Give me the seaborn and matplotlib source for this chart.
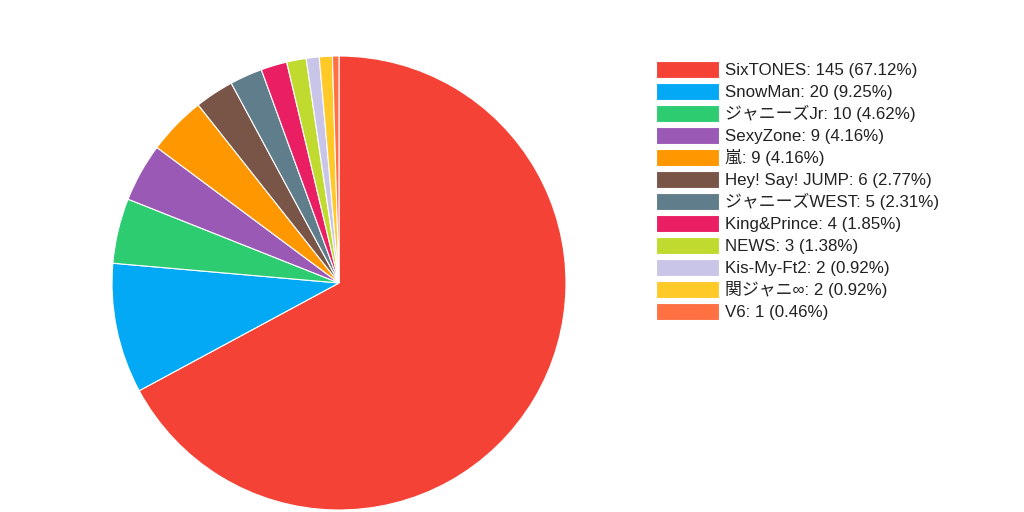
import matplotlib
matplotlib.use("Agg")
import matplotlib.pyplot as plt
import seaborn as sns
from matplotlib.patches import Patch

groups = ["SixTONES", "SnowMan", "ジャニーズJr", "SexyZone", "嵐", "Hey! Say! JUMP",
          "ジャニーズWEST", "King&Prince", "NEWS", "Kis-My-Ft2", "関ジャニ∞", "V6"]
votes = [145, 20, 10, 9, 9, 6, 5, 4, 3, 2, 2, 1]
shares = ["67.12%", "9.25%", "4.62%", "4.16%", "4.16%", "2.77%",
          "2.31%", "1.85%", "1.38%", "0.92%", "0.92%", "0.46%"]
colors_hex = ["#F44336", "#03A9F4", "#2ECC71", "#9B59B6", "#FF9800", "#795548",
              "#607D8B", "#E91E63", "#C0DA2F", "#C9C5E8", "#FFCA28", "#FF7043"]

sns.set_theme(style="white")
plt.rcParams["font.family"] = ["Liberation Sans", "Noto Sans CJK JP", "DejaVu Sans"]
palette = sns.color_palette(colors_hex)

fig = plt.figure(figsize=(10.24, 5.12), dpi=100)
cx, cy, r = 339, 283, 227
ax = fig.add_axes([(cx - r) / 1024, (512 - cy - r) / 512, 2 * r / 1024, 2 * r / 512])
ax.pie(votes, colors=palette, startangle=90, counterclock=False,
       wedgeprops=dict(edgecolor="white", linewidth=0.8))
ax.set_xlim(-1, 1)
ax.set_ylim(-1, 1)
ax.set_aspect("equal")
ax.axis("off")

handles = [Patch(facecolor=c, edgecolor="white", linewidth=0.8) for c in palette]
labels = [f"{g}: {v} ({s})" for g, v, s in zip(groups, votes, shares)]
fs = 12.2
fig.legend(handles, labels, loc="upper left", bbox_to_anchor=(656 / 1024, 1 - 61 / 512),
           frameon=False, fontsize=fs, handlelength=3.7, handleheight=1.2,
           handletextpad=0.4, labelspacing=0.27, borderpad=0, borderaxespad=0,
           labelcolor="#222222")

fig.savefig("out.png", dpi=100, facecolor="white")
